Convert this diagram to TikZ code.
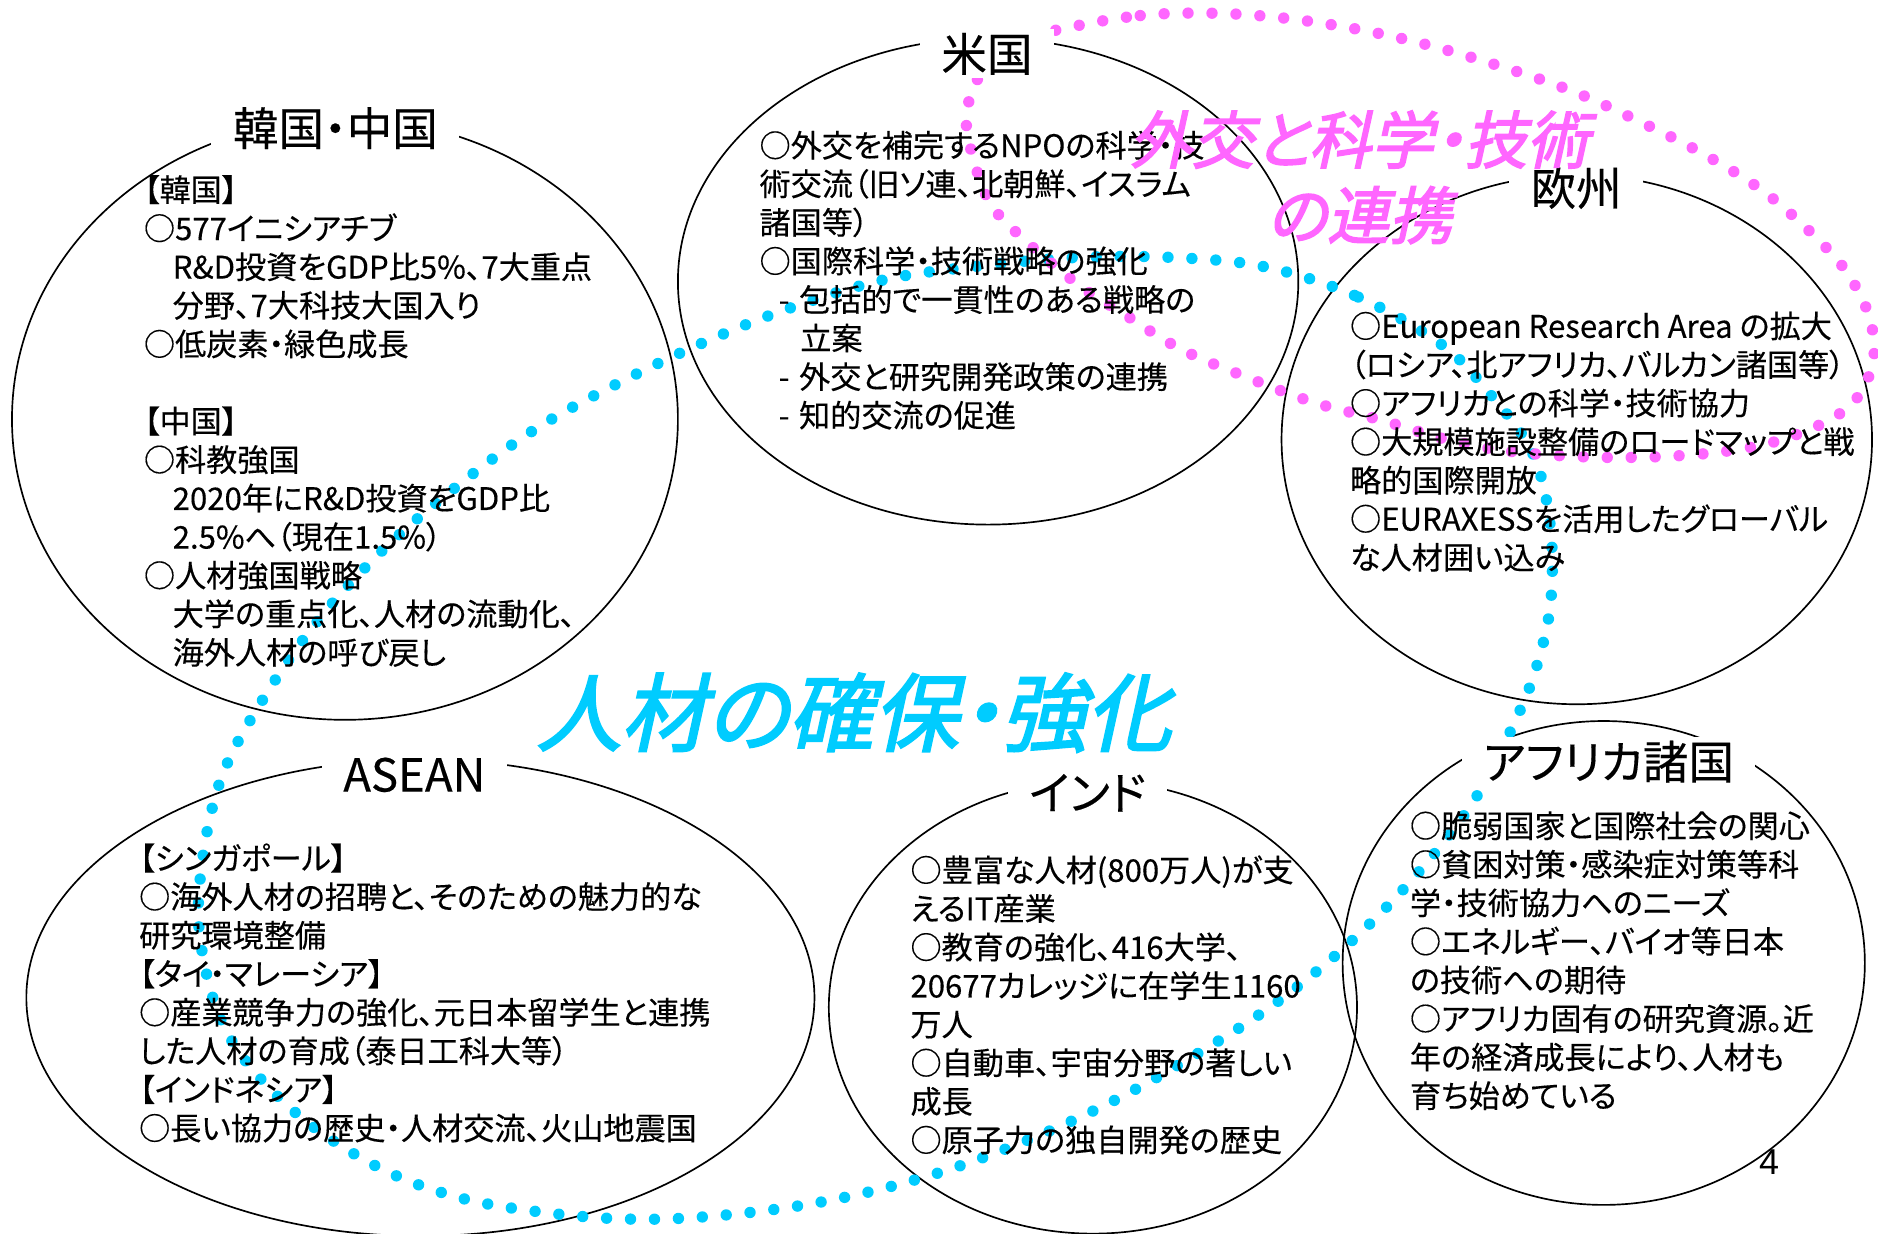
\documentclass[tikz,border=0pt]{standalone}
\usepackage{fontspec}
\setmainfont{Noto Sans CJK JP}[RawFeature=+palt,FakeBold=0.3]
\newfontfamily\bigfont{Noto Sans CJK JP}[RawFeature=+palt,FakeSlant=0.22,FakeBold=2.5]
\newfontfamily\numfont{Liberation Sans}
\usetikzlibrary{shapes.geometric}
\definecolor{dotcyan}{RGB}{0,204,255}
\definecolor{dotpink}{RGB}{255,102,255}
\tikzset{
  region/.style={ellipse, draw=black, line width=1.4pt, inner sep=0pt},
  heading/.style={fill=white, inner xsep=18pt, inner ysep=3pt, font=\fontsize{38}{44}\selectfont},
  body/.style={anchor=north west, inner sep=0pt, align=left, font=\fontsize{26}{32.2}\selectfont},
  cyandots/.style={draw=dotcyan, line width=9.5pt, line cap=round, dash pattern=on 0pt off 20pt},
  pinkdots/.style={draw=dotpink, line width=9.5pt, line cap=round, dash pattern=on 0pt off 20pt},
  bigcyan/.style={text=dotcyan, inner sep=0pt, font=\bigfont\fontsize{71}{74}\selectfont},
  bigpink/.style={text=dotpink, inner sep=0pt, align=center, font=\bigfont\fontsize{52}{63}\selectfont},
}
\begin{document}
\begin{tikzpicture}[x=1pt,y=-1pt]
\fill[white] (0,0) rectangle (1568,1030);
\useasboundingbox (0,0) rectangle (1568,1030);

% regions
\node[region, minimum width=556pt, minimum height=502pt] (kc) at (288,350) {};
\node[region, minimum width=518pt, minimum height=406pt] (us) at (825,235) {};
\node[region, minimum width=493pt, minimum height=442pt] (eu) at (1316.5,367) {};
\node[region, minimum width=658pt, minimum height=398pt] (asean) at (351,833) {};
\node[region, minimum width=441pt, minimum height=378pt] (india) at (912.5,841) {};
\node[region, minimum width=436pt, minimum height=404pt] (africa) at (1339,804) {};

% dotted loops
\draw[cyandots] plot[smooth cycle, tension=0.6] coordinates {
(1057,223) (1134,248) (1204,288) (1244,329) (1279,377) (1294,436) (1295,500)
(1284,553) (1266,600) (1231,668) (1182,731) (1126,788) (1063,839) (996,882)
(926,921) (853,954) (778,981) (699,1001) (620,1013) (539,1018) (460,1013)
(380,999) (309,971) (241,924) (190,863) (168,790) (168,726) (185,649)
(222,580) (268,515) (322,457) (384,404) (449,357) (520,318) (592,284)
(663,256) (741,233) (819,222) (899,215) (980,215)};
\draw[pinkdots] plot[smooth cycle, tension=0.6] coordinates {
(892,23) (952,13) (1011,11) (1071,15) (1131,24) (1190,37) (1258,57)
(1315,77) (1370,102) (1423,129) (1474,161) (1520,202) (1545,232) (1562,269)
(1563,306) (1542,341) (1491,366) (1431,378) (1351,382) (1271,378) (1212,368)
(1154,351) (1097,336) (1041,315) (985,291) (935,260) (902,239) (855,200)
(827,170) (812,130) (807,95) (820,60) (850,35)};

% body texts
\node[body] (kctext) at (120,146) {【韓国】\\
○577イニシアチブ\\
\hspace{24pt}R\&D投資をGDP比5\%、7大重点\\
\hspace{24pt}分野、7大科技大国入り\\
○低炭素・緑色成長\\[32.2pt]
【中国】\\
○科教強国\\
\hspace{24pt}2020年にR\&D投資をGDP比\\
\hspace{24pt}2.5\%へ（現在1.5\%）\\
○人材強国戦略\\
\hspace{24pt}大学の重点化、人材の流動化、\\
\hspace{24pt}海外人材の呼び戻し};

\node[body] (ustext) at (634,109) {○外交を補完するNPOの科学・技\\
術交流（旧ソ連、北朝鮮、イスラム\\
諸国等）\\
○国際科学・技術戦略の強化\\
\hspace{16pt}-\hspace{8pt}包括的で一貫性のある戦略の\\
\hspace{34pt}立案\\
\hspace{16pt}-\hspace{8pt}外交と研究開発政策の連携\\
\hspace{16pt}-\hspace{8pt}知的交流の促進};

\node[body] (eutext) at (1127,260) {○European Research Area の拡大\\
（ロシア、北アフリカ、バルカン諸国等）\\
○アフリカとの科学・技術協力\\
○大規模施設整備のロードマップと戦\\
略的国際開放\\
○EURAXESSを活用したグローバル\\
な人材囲い込み};

\node[body] (aseantext) at (116,704) {【シンガポール】\\
○海外人材の招聘と、そのための魅力的な\\
研究環境整備\\
【タイ・マレーシア】\\
○産業競争力の強化、元日本留学生と連携\\
した人材の育成（泰日工科大等）\\
【インドネシア】\\
○長い協力の歴史・人材交流、火山地震国};

\node[body] (indiatext) at (760,714) {○豊富な人材(800万人)が支\\
えるIT産業\\
○教育の強化、416大学、\\
20677カレッジに在学生1160\\
万人\\
○自動車、宇宙分野の著しい\\
成長\\
○原子力の独自開発の歴史};

\node[body] (africatext) at (1177,677) {○脆弱国家と国際社会の関心\\
○貧困対策・感染症対策等科\\
学・技術協力へのニーズ\\
○エネルギー、バイオ等日本\\
の技術への期待\\
○アフリカ固有の研究資源。近\\
年の経済成長により、人材も\\
育ち始めている};

% headings
\node[heading] (kctitle) at (280,107) {韓国・中国};
\node[heading] (ustitle) at (824,45) {米国};
\node[heading] (eutitle) at (1316,157) {欧州};
\node[heading] (aseantitle) at (346,647) {ASEAN};
\node[heading] (indiatitle) at (908,662) {インド};
\node[heading] (africatitle) at (1343,636) {アフリカ諸国};

% big labels
\node[bigcyan] (talent) at (713,595) {人材の確保・強化};
\node[bigpink] (diplo) at (1135,148) {外交と科学・技術\\の連携};

% page number
\node[inner sep=0pt, font=\numfont\fontsize{30}{34}\selectfont] (pagenum) at (1477,970) {4};
\end{tikzpicture}
\end{document}
